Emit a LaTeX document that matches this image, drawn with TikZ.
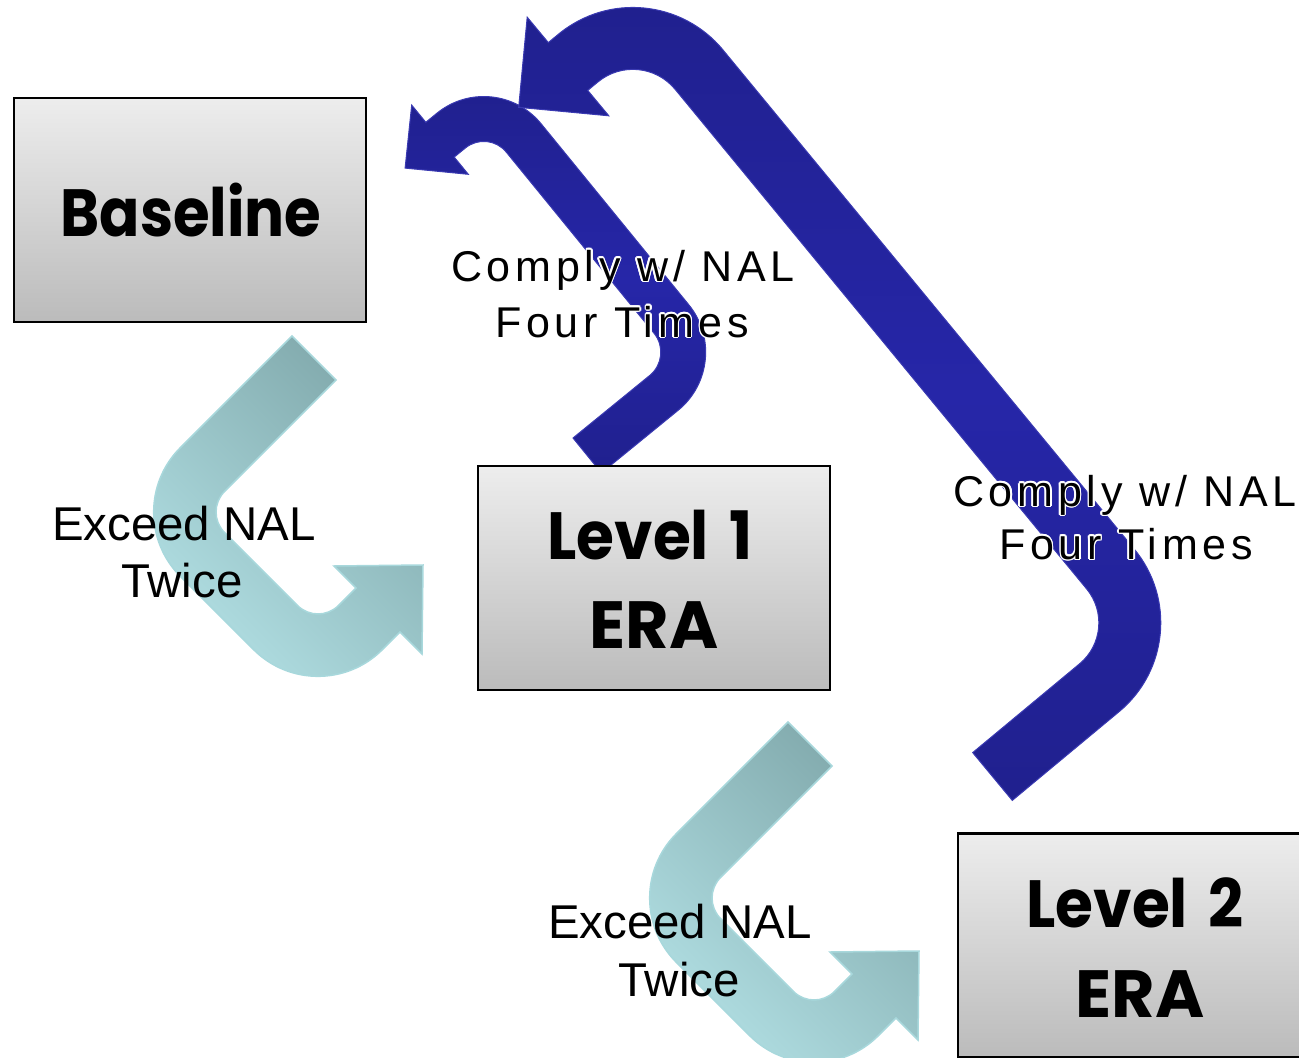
\documentclass[tikz,border=0pt]{standalone}
\usepackage{fontspec}
\setmainfont{Liberation Sans}
\newfontfamily\boxfont{Poppins}
\newfontfamily\complyfont{Liberation Sans}[LetterSpace=11]
\usetikzlibrary{calc}
\definecolor{tealD}{HTML}{80A8AB}
\definecolor{tealL}{HTML}{B2E0E4}
\definecolor{tealE}{HTML}{A8D8DC}
\definecolor{blueM}{HTML}{2626A8}
\definecolor{blueD}{HTML}{20208E}
\definecolor{blueE}{HTML}{3A3AB2}
\definecolor{boxT}{HTML}{EDEDED}
\definecolor{boxB}{HTML}{BBBBBB}

\newcommand\mkcorner[5]{%
  \coordinate (#1-i) at ($(#3)!#5*0.02cm!(#2)$);
  \coordinate (#1-o) at ($(#3)!#5*0.02cm!(#4)$);
  \coordinate (#1-a) at ($(#3)!#5*0.00896cm!(#2)$);
  \coordinate (#1-b) at ($(#3)!#5*0.00896cm!(#4)$);
}

\newcommand\tealarrow[1]{%
  \coordinate (#1ot) at (292,336);
  \coordinate (#1it) at (336,380);
  \coordinate (#1vo1) at (116,512);
  \coordinate (#1vo2) at (318,714);
  \coordinate (#1oj) at (400,632);
  \coordinate (#1b2) at (422,654);
  \coordinate (#1tip) at (423,565);
  \coordinate (#1b1) at (334,566);
  \coordinate (#1ij) at (356,588);
  \coordinate (#1vi2) at (318,626);
  \coordinate (#1vi1) at (204,512);
  \mkcorner{#1co1}{#1ot}{#1vo1}{#1vo2}{91}
  \mkcorner{#1co2}{#1vo1}{#1vo2}{#1oj}{91}
  \mkcorner{#1ci2}{#1ij}{#1vi2}{#1vi1}{29}
  \mkcorner{#1ci1}{#1vi2}{#1vi1}{#1it}{29}
  \path[tealarrowst] (#1ot) -- (#1co1-i) .. controls (#1co1-a) and (#1co1-b) .. (#1co1-o)
     -- (#1co2-i) .. controls (#1co2-a) and (#1co2-b) .. (#1co2-o)
     -- (#1oj) -- (#1b2) -- (#1tip) -- (#1b1) -- (#1ij)
     -- (#1ci2-i) .. controls (#1ci2-a) and (#1ci2-b) .. (#1ci2-o)
     -- (#1ci1-i) .. controls (#1ci1-a) and (#1ci1-b) .. (#1ci1-o)
     -- (#1it) -- cycle;
}

\newcommand\halotext[3]{%
  \foreach \a in {0,30,...,330} {\node[cmp, text=white] (#1h\a) at ($(#2)+(\a:1.6)$) {#3};}
  \node[cmp] (#1) at (#2) {#3};
}

\begin{document}
\begin{tikzpicture}[x=0.02cm,y=-0.02cm,
  tealarrowst/.style={draw=tealE, line width=0.03cm, top color=tealD, bottom color=tealL, shading angle=-45},
  bluearrowst/.style={draw=blueE, line width=0.02cm, top color=blueD, bottom color=blueD, middle color=blueM},
  boxst/.style={draw=black, line width=0.05cm, top color=boxT, bottom color=boxB, minimum width=7.04cm, minimum height=4.48cm, inner sep=0pt},
  boxtxt/.style={font=\boxfont\bfseries\fontsize{38}{45}\selectfont, inner sep=0pt, anchor=base},
  lbl/.style={font=\fontsize{27}{32}\selectfont, inner sep=0pt, anchor=base},
  cmp/.style={font=\complyfont\fontsize{24.5}{30}\selectfont, inner sep=0pt, anchor=base}]
\useasboundingbox (0,0) rectangle (1299,1058);
\clip (0,0) rectangle (1299,1058);
\fill[white] (0,0) rectangle (1299,1058);

% teal arrows (Exceed NAL Twice)
\tealarrow{ta}
\begin{scope}[shift={(496,386)}]
\tealarrow{tb}
\end{scope}

% small blue arrow
\coordinate (sot) at (601.4,472.9);
\coordinate (svo1) at (736.2,362.9);
\coordinate (svo2) at (494.3,66.4);
\coordinate (soj) at (425.8,122.3);
\coordinate (sb1) at (411.7,105.1);
\coordinate (stip) at (405.1,168.1);
\coordinate (sb2) at (468.3,174.3);
\coordinate (sij) at (454.2,157.1);
\coordinate (svi2) at (487.9,129.6);
\coordinate (svi1) at (673,356.5);
\coordinate (sit) at (573,438);
\mkcorner{sco1}{sot}{svo1}{svo2}{75}
\mkcorner{sco2}{svo1}{svo2}{soj}{74}
\mkcorner{sci2}{sij}{svi2}{svi1}{29}
\mkcorner{sci1}{svi2}{svi1}{sit}{30}
\path[bluearrowst] (sot) -- (sco1-i) .. controls (sco1-a) and (sco1-b) .. (sco1-o)
  -- (sco2-i) .. controls (sco2-a) and (sco2-b) .. (sco2-o)
  -- (soj) -- (sb1) -- (stip) -- (sb2) -- (sij)
  -- (sci2-i) .. controls (sci2-a) and (sci2-b) .. (sci2-o)
  -- (sci1-i) .. controls (sci1-a) and (sci1-b) .. (sci1-o)
  -- (sit) -- cycle;

% big blue arrow
\coordinate (bot) at (1012.3,800.4);
\coordinate (bvo1) at (1207.6,638.1);
\coordinate (bvo2) at (648.6,-40.3);
\coordinate (boj) at (548.3,42.6);
\coordinate (bb1) at (527.2,17.2);
\coordinate (btip) at (518.7,107.3);
\coordinate (bb2) at (608.8,115.8);
\coordinate (bij) at (587.7,90.4);
\coordinate (bvi2) at (640.2,46.9);
\coordinate (bvi1) at (1120.4,629.9);
\coordinate (bit) at (972.7,752.6);
\mkcorner{bco1}{bot}{bvo1}{bvo2}{115}
\mkcorner{bco2}{bvo1}{bvo2}{boj}{117}
\mkcorner{bci2}{bij}{bvi2}{bvi1}{55}
\mkcorner{bci1}{bvi2}{bvi1}{bit}{53}
\path[bluearrowst] (bot) -- (bco1-i) .. controls (bco1-a) and (bco1-b) .. (bco1-o)
  -- (bco2-i) .. controls (bco2-a) and (bco2-b) .. (bco2-o)
  -- (boj) -- (bb1) -- (btip) -- (bb2) -- (bij)
  -- (bci2-i) .. controls (bci2-a) and (bci2-b) .. (bci2-o)
  -- (bci1-i) .. controls (bci1-a) and (bci1-b) .. (bci1-o)
  -- (bit) -- cycle;

% boxes
\node[boxst] (baseline) at (190,210) {};
\node[boxst] (level1) at (654,578) {};
\node[boxst] (level2) at (1134,945.5) {};

\node[boxtxt, xscale=0.89] (tbase) at (191,236) {Baseline};
\node[boxtxt, xscale=0.92] (tl1a) at (650,559) {Level\hspace{0.33em}1};
\node[boxtxt] (tl1b) at (654,648) {ERA};
\node[boxtxt, xscale=0.92] (tl2a) at (1135,927) {Level\hspace{0.33em}2};
\node[boxtxt] (tl2b) at (1140,1017) {ERA};

% labels
\node[lbl] (ex1a) at (184,540) {Exceed NAL};
\node[lbl] (ex1b) at (182,597) {Twice};
\node[lbl] (ex2a) at (680,938) {Exceed NAL};
\node[lbl] (ex2b) at (679,996) {Twice};

\halotext{cp1a}{623,281}{Comply w/ NAL}
\halotext{cp1b}{622,337}{Four Times}
\halotext{cp2a}{1125,506}{Comply w/ NAL}
\halotext{cp2b}{1126,559}{Four Times}
\end{tikzpicture}
\end{document}
